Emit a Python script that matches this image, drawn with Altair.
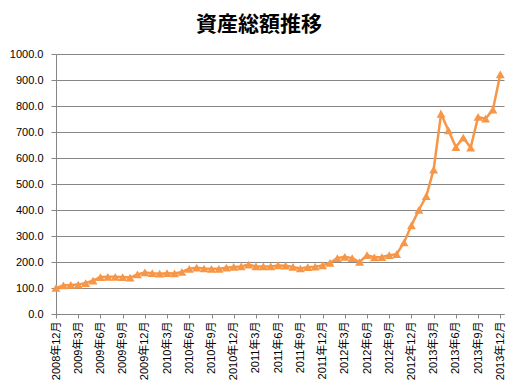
import altair as alt
import pandas as pd

# 月末資産総額 (2008年12月〜2013年12月)
values = [100, 110, 112, 113, 119, 128, 142, 143, 143, 142,
          140, 152, 160, 157, 155, 157, 156, 162, 174, 178,
          175, 174, 174, 178, 181, 183, 190, 183, 183, 183,
          187, 186, 181, 175, 180, 182, 187, 197, 215, 220,
          215, 200, 226, 218, 219, 226, 230, 275, 341, 400,
          453, 555, 770, 706, 642, 678, 640, 758, 751, 786,
          922]
month_index = list(range(len(values)))

tick_labels = ["2008年12月", "2009年3月", "2009年6月", "2009年9月", "2009年12月",
               "2010年3月", "2010年6月", "2010年9月", "2010年12月",
               "2011年3月", "2011年6月", "2011年9月", "2011年12月",
               "2012年3月", "2012年6月", "2012年9月", "2012年12月",
               "2013年3月", "2013年6月", "2013年9月", "2013年12月"]
tick_positions = list(range(0, len(values), 3))
y_ticks = list(range(0, 1001, 100))

df = pd.DataFrame({"i": month_index, "v": values})

label_array = "[" + ",".join("'%s'" % s for s in tick_labels) + "]"
FONT = "Liberation Sans, Arial, Noto Sans CJK JP, sans-serif"
GRID = "#868686"
ORANGE = "#F79646"

base = alt.Chart(df).encode(
    x=alt.X(
        "i:Q",
        scale=alt.Scale(domain=[0, 60.5], nice=False, zero=False),
        axis=alt.Axis(
            values=tick_positions,
            labelExpr=label_array + "[round(datum.value/3)]",
            labelAngle=270,
            grid=False,
            title=None,
            tickSize=4,
            labelPadding=3,
            labelFont=FONT,
            labelFontSize=11,
            labelColor="#000000",
            domainColor=GRID,
            tickColor=GRID,
            labelOverlap=False,
        ),
    ),
    y=alt.Y(
        "v:Q",
        scale=alt.Scale(domain=[0, 1000], nice=False),
        axis=alt.Axis(
            values=y_ticks,
            format=".1f",
            title=None,
            grid=True,
            gridColor=GRID,
            tickSize=5,
            labelPadding=8,
            labelFont=FONT,
            labelFontSize=11,
            labelColor="#000000",
            domainColor=GRID,
            tickColor=GRID,
        ),
    ),
)

line = base.mark_line(color=ORANGE, strokeWidth=2.5)
pts = base.mark_point(shape="triangle-up", filled=True, size=80, color=ORANGE, opacity=1)

chart = (line + pts).properties(
    width=448,
    height=260,
    title=alt.TitleParams(
        "資産総額推移",
        font="Noto Sans CJK JP",
        fontSize=21,
        fontWeight="bold",
        color="#000000",
        anchor="middle",
        dx=-21,
        offset=13,
    ),
    autosize=alt.AutoSizeParams(type="none"),
    padding={"left": 48, "top": 46, "right": 6, "bottom": 69},
).configure_view(stroke=None)

chart.save("out.html", embed_options={"renderer": "svg", "actions": False})
